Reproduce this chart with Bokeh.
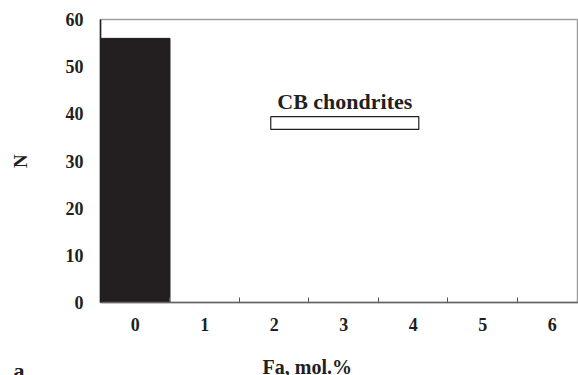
from bokeh.plotting import figure
from bokeh.models import Range1d, FixedTicker, Label, Title
from bokeh.embed import file_html
from bokeh.resources import INLINE

# data
fa_bins = [0, 1, 2, 3, 4, 5, 6]
counts = [56, 0, 0, 0, 0, 0, 0]
tick_labels = ["0", "1", "2", "3", "4", "5", "6"]
y_ticks = [0, 10, 20, 30, 40, 50, 60]
cb_range = [1.95, 4.08]   # Fa range of CB chondrites
cb_y = [36.7, 39.4]
cb_label = "CB chondrites"

FONT = "Liberation Serif"
INK = "#231f20"

p = figure(width=578, height=375, output_backend="svg", toolbar_location=None,
           x_range=Range1d(-0.5, 6.378), y_range=Range1d(0, 60),
           min_border_left=100, min_border_right=0, min_border_top=19, min_border_bottom=73)
p.background_fill_color = "white"
p.border_fill_color = "white"
p.xgrid.visible = False
p.ygrid.visible = False
p.outline_line_color = "#a0a0a0"
p.outline_line_width = 1.5

p.vbar(x=fa_bins, top=counts, width=1.0, bottom=0, fill_color=INK, line_color=INK)

p.quad(left=[cb_range[0]], right=[cb_range[1]], bottom=[cb_y[0]], top=[cb_y[1]],
       fill_color="white", line_color=INK, line_width=1.2)

p.add_layout(Label(x=sum(cb_range) / 2, y=42.6, text=cb_label, text_align="center",
                   text_baseline="alphabetic", text_font=FONT, text_font_style="bold",
                   text_font_size="22px", text_color=INK))

# x axis
xa = p.xaxis[0]
xa.ticker = FixedTicker(ticks=fa_bins, minor_ticks=[b + 0.5 for b in fa_bins[:-1]])
xa.major_label_overrides = {b: t for b, t in zip(fa_bins, tick_labels)}
xa.major_tick_in = 0
xa.major_tick_out = 0
xa.minor_tick_in = 5
xa.minor_tick_out = 0
xa.minor_tick_line_color = "#555555"
xa.axis_line_color = "#666666"
xa.axis_line_width = 1.5
xa.major_label_text_font = FONT
xa.major_label_text_font_style = "bold"
xa.major_label_text_font_size = "18px"
xa.major_label_text_color = INK
xa.major_label_standoff = 15

# x title, left of centre as in the reference (negative standoff keeps the panel small)
p.add_layout(Title(text="Fa, mol.%", align="left", offset=162, standoff=-89,
                   text_font=FONT, text_font_style="bold", text_font_size="20px",
                   text_color=INK), "below")
# panel letter
p.add_layout(Title(text="a", align="left", offset=-87, standoff=-99,
                   text_font=FONT, text_font_style="bold", text_font_size="22px",
                   text_color=INK), "below")

# y axis
ya = p.yaxis[0]
ya.ticker = FixedTicker(ticks=y_ticks)
ya.major_tick_in = 0
ya.major_tick_out = 0
ya.minor_tick_in = 0
ya.minor_tick_out = 0
ya.axis_line_color = INK
ya.axis_line_width = 1.5
ya.major_label_text_font = FONT
ya.major_label_text_font_style = "bold"
ya.major_label_text_font_size = "18px"
ya.major_label_text_color = INK
ya.major_label_standoff = 17
ya.axis_label = "N"
ya.axis_label_text_font = FONT
ya.axis_label_text_font_style = "bold"
ya.axis_label_text_font_size = "19px"
ya.axis_label_text_color = INK
ya.axis_label_standoff = 32

open("out.html", "w").write(file_html(p, INLINE))
